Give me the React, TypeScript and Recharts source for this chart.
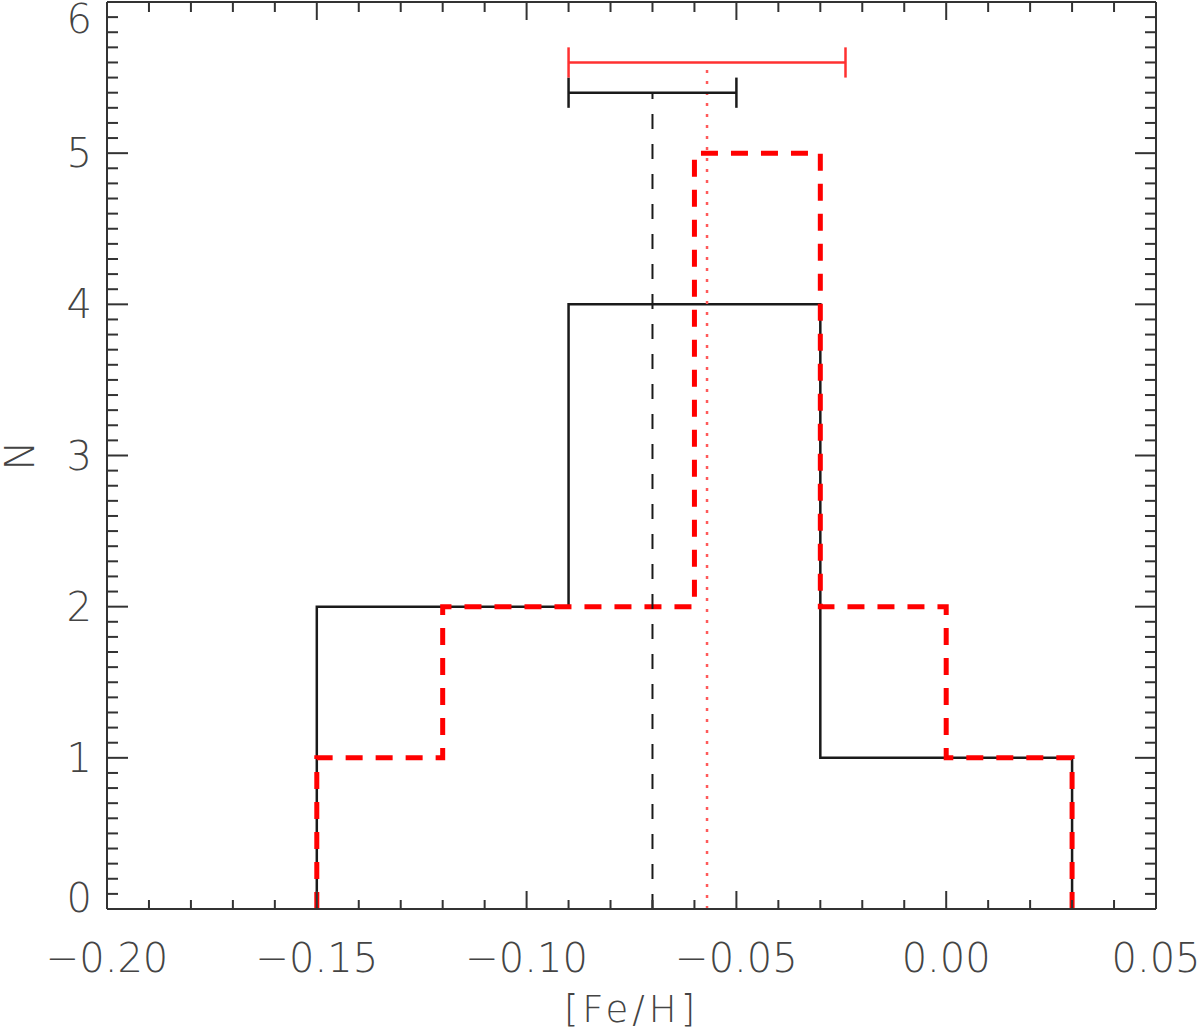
import React from 'react';
import { ComposedChart, Line, XAxis, YAxis, Label } from 'recharts';

// histogram bins ([Fe/H]) and counts
const binEdges = [-0.15, -0.12, -0.09, -0.06, -0.03, 0.0, 0.03];
const countsBlack = [2, 2, 4, 4, 1, 1];
const countsRed = [1, 2, 2, 5, 2, 1];

// means and 1-sigma bars drawn above the histograms
const meanBlack = -0.07;
const sigmaBlack = 0.02;
const barLevelBlack = 5.4;
const meanRed = -0.057;
const sigmaRed = 0.033;
const barLevelRed = 5.6;
const meanLineTopRed = 5.56;
const capHalf = 0.1;

const xMajorTicks = [-0.2, -0.15, -0.1, -0.05, 0.0, 0.05];
const yMajorTicks = [0, 1, 2, 3, 4, 5, 6];

const W = 1200;
const H = 1036;
const LEFT = 107;
const RIGHT = 1156;
const TOP = 2;
const BOTTOM = 909;

const FONT = '"DejaVu Sans", sans-serif';
const TEXT = '#444';
const AXIS = '#333';

const xTicks = Array.from({ length: 26 }, (_, i) => +(-0.2 + i * 0.01).toFixed(2));
const yTicks = Array.from({ length: 61 }, (_, i) => +(i * 0.1).toFixed(1));

const isXMajor = (v: number) => Math.abs(v * 20 - Math.round(v * 20)) < 1e-6;
const isYMajor = (v: number) => Math.abs(v - Math.round(v)) < 1e-6;
const fmtX = (v: number) => v.toFixed(2).replace('-', '\u2212');

const toStep = (edges: number[], counts: number[]) => {
  const pts = [{ x: edges[0], y: 0 }];
  counts.forEach((c, i) => pts.push({ x: edges[i], y: c }));
  pts.push({ x: edges[edges.length - 1], y: counts[counts.length - 1] });
  pts.push({ x: edges[edges.length - 1], y: 0 });
  return pts;
};

const stepBlack = toStep(binEdges, countsBlack);
const stepRed = toStep(binEdges, countsRed);

const seg = (x1: number, y1: number, x2: number, y2: number) => [
  { x: x1, y: y1 },
  { x: x2, y: y2 },
];

const BottomTick = ({ x, y, payload }: any) => {
  const major = isXMajor(payload.value);
  return (
    <g>
      <line x1={x} x2={x} y1={y} y2={y - (major ? 18 : 9)} stroke={AXIS} strokeWidth={2} />
      {major && xMajorTicks.some((t) => Math.abs(t - payload.value) < 1e-6) && (
        <text x={x} y={y + 63} textAnchor="middle" fontSize={40} fontFamily={FONT} fontWeight={200} fill={TEXT}>
          {fmtX(payload.value)}
        </text>
      )}
    </g>
  );
};

const TopTick = ({ x, y, payload }: any) => {
  const major = isXMajor(payload.value);
  return <line x1={x} x2={x} y1={y} y2={y + (major ? 18 : 10)} stroke={AXIS} strokeWidth={2} />;
};

const LeftTick = ({ x, y, payload }: any) => {
  const v = payload.value;
  const major = isYMajor(v);
  let ty = y + 14;
  if (v === 6) ty += 17;
  if (v === 0) ty -= 11;
  return (
    <g>
      <line x1={x} x2={x + (major ? 21 : 11)} y1={y} y2={y} stroke={AXIS} strokeWidth={2} />
      {major && yMajorTicks.includes(v) && (
        <text x={x - 15} y={ty} textAnchor="end" fontSize={40} fontFamily={FONT} fontWeight={200} fill={TEXT}>
          {v}
        </text>
      )}
    </g>
  );
};

const RightTick = ({ x, y, payload }: any) => {
  const major = isYMajor(payload.value);
  return <line x1={x} x2={x - (major ? 21 : 11)} y1={y} y2={y} stroke={AXIS} strokeWidth={2} />;
};

const lineProps = { dataKey: 'y', dot: false, activeDot: false, isAnimationActive: false, type: 'linear' as const };

export default function App() {
  return (
    <div style={{ position: 'absolute', left: 0, top: 0, width: W, height: H, background: '#fff' }}>
      <ComposedChart width={W} height={H} margin={{ top: 0, right: 0, bottom: 0, left: 0 }}>
        <XAxis
          xAxisId="b"
          dataKey="x"
          type="number"
          domain={[-0.2, 0.05]}
          ticks={xTicks}
          interval={0}
          orientation="bottom"
          height={H - BOTTOM}
          tickSize={0}
          tickMargin={0}
          tickLine={false}
          tick={<BottomTick />}
          axisLine={{ stroke: AXIS, strokeWidth: 2 }}
          allowDataOverflow
        >
          <Label
            content={() => (
              <text x={(LEFT + RIGHT) / 2} y={1022} textAnchor="middle" fontSize={37} letterSpacing={4} fontFamily={FONT} fontWeight={200} fill={TEXT}>
                [Fe/H]
              </text>
            )}
          />
        </XAxis>
        <XAxis
          xAxisId="t"
          dataKey="x"
          type="number"
          domain={[-0.2, 0.05]}
          ticks={xTicks}
          interval={0}
          orientation="top"
          height={TOP}
          tickSize={0}
          tickMargin={0}
          tickLine={false}
          tick={<TopTick />}
          axisLine={{ stroke: AXIS, strokeWidth: 2 }}
          allowDataOverflow
        />
        <YAxis
          yAxisId="l"
          type="number"
          domain={[0, 6]}
          ticks={yTicks}
          interval={0}
          orientation="left"
          width={LEFT}
          tickSize={0}
          tickMargin={0}
          tickLine={false}
          tick={<LeftTick />}
          axisLine={{ stroke: AXIS, strokeWidth: 2 }}
          allowDataOverflow
        >
          <Label
            content={() => (
              <text
                x={34}
                y={(TOP + BOTTOM) / 2}
                transform={`rotate(-90 34 ${(TOP + BOTTOM) / 2})`}
                textAnchor="middle"
                fontSize={40}
                fontFamily={FONT}
                fontWeight={200}
                fill={TEXT}
              >
                N
              </text>
            )}
          />
        </YAxis>
        <YAxis
          yAxisId="r"
          type="number"
          domain={[0, 6]}
          ticks={yTicks}
          interval={0}
          orientation="right"
          width={W - RIGHT}
          tickSize={0}
          tickMargin={0}
          tickLine={false}
          tick={<RightTick />}
          axisLine={{ stroke: AXIS, strokeWidth: 2 }}
          allowDataOverflow
        />

        {/* histograms */}
        <Line {...lineProps} xAxisId="b" yAxisId="l" data={stepBlack} type="stepAfter" stroke="#1a1a1a" strokeWidth={2.5} />
        <Line {...lineProps} xAxisId="b" yAxisId="l" data={stepRed} type="stepAfter" stroke="#ff0000" strokeWidth={5} strokeDasharray="17 13" />

        {/* mean lines */}
        <Line {...lineProps} xAxisId="b" yAxisId="l" data={seg(meanBlack, 0, meanBlack, barLevelBlack)} stroke="#1a1a1a" strokeWidth={2} strokeDasharray="15 15" />
        <Line {...lineProps} xAxisId="b" yAxisId="l" data={seg(meanRed, 0, meanRed, meanLineTopRed)} stroke="#ff5a5a" strokeWidth={2.5} strokeDasharray="3 8" />

        {/* sigma bars */}
        <Line {...lineProps} xAxisId="b" yAxisId="l" data={seg(meanBlack - sigmaBlack, barLevelBlack, meanBlack + sigmaBlack, barLevelBlack)} stroke="#1a1a1a" strokeWidth={2.5} />
        <Line {...lineProps} xAxisId="b" yAxisId="l" data={seg(meanBlack - sigmaBlack, barLevelBlack - capHalf, meanBlack - sigmaBlack, barLevelBlack + capHalf)} stroke="#1a1a1a" strokeWidth={2.5} />
        <Line {...lineProps} xAxisId="b" yAxisId="l" data={seg(meanBlack + sigmaBlack, barLevelBlack - capHalf, meanBlack + sigmaBlack, barLevelBlack + capHalf)} stroke="#1a1a1a" strokeWidth={2.5} />
        <Line {...lineProps} xAxisId="b" yAxisId="l" data={seg(meanRed - sigmaRed, barLevelRed, meanRed + sigmaRed, barLevelRed)} stroke="#ff3030" strokeWidth={2.5} />
        <Line {...lineProps} xAxisId="b" yAxisId="l" data={seg(meanRed - sigmaRed, barLevelRed - capHalf, meanRed - sigmaRed, barLevelRed + capHalf)} stroke="#ff3030" strokeWidth={2.5} />
        <Line {...lineProps} xAxisId="b" yAxisId="l" data={seg(meanRed + sigmaRed, barLevelRed - capHalf, meanRed + sigmaRed, barLevelRed + capHalf)} stroke="#ff3030" strokeWidth={2.5} />
      </ComposedChart>
    </div>
  );
}
